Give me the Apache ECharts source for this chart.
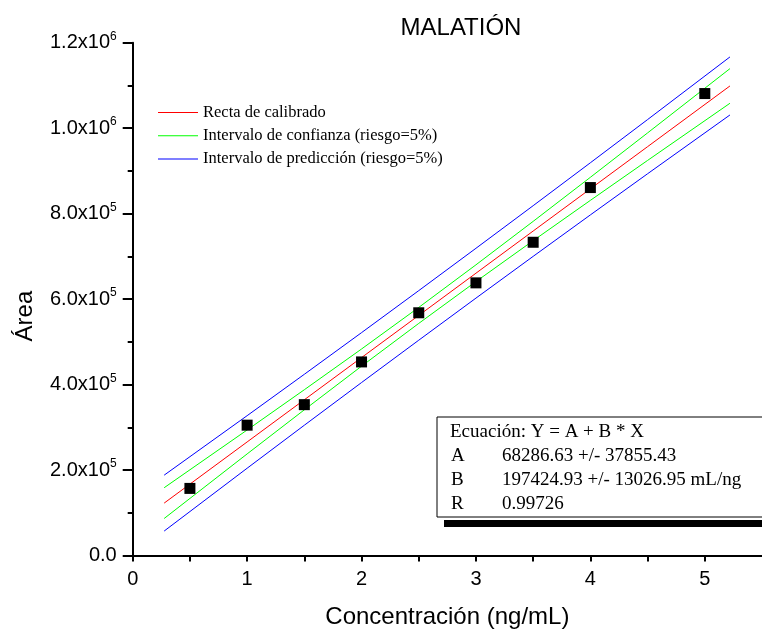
<!DOCTYPE html>
<html>
<head>
<meta charset="utf-8">
<script src="https://cdn.jsdelivr.net/npm/echarts@6/dist/echarts.min.js"></script>
<style>
  html, body { margin: 0; padding: 0; background: #fff; }
  #chart { width: 762px; height: 635px; }
</style>
</head>
<body>
<div id="chart"></div>
<script>
// Calibration standards (ng/mL) and measured peak areas
const concentrations = [0.5, 1.0, 1.5, 2.0, 2.5, 3.0, 3.5, 4.0, 5.0];
const areas = [157000, 305000, 353000, 453000, 568000, 638000, 733000, 861000, 1081000];

// Calibration line and its 5% confidence / prediction bands
const bandX = [0.275, 1.0, 1.5, 2.0, 2.5, 3.0, 3.5, 4.0, 4.5, 5.22];
const fitLine = [122600, 265700, 364400, 463100, 561800, 660600, 759300, 858000, 956700, 1098800];
const confUpper = [158600, 293700, 387900, 483200, 580500, 680200, 781900, 885000, 988900, 1139300];
const confLower = [86600, 237700, 340900, 443000, 543100, 641000, 736700, 831000, 924500, 1058300];
const predUpper = [188000, 327200, 424000, 521500, 619800, 718900, 818600, 919000, 1020100, 1166700];
const predLower = [57200, 204200, 304800, 404700, 503800, 602300, 700000, 797000, 893300, 1030900];

// Axis tick labels
const xTickLabels = ['0', '1', '2', '3', '4', '5'];
const yMantissas = ['0.0', '2.0', '4.0', '6.0', '8.0', '1.0', '1.2'];
const yExponents = ['', '5', '5', '5', '5', '6', '6'];

// Series names shown in the legend
const nameFit = 'Recta de calibrado';
const nameConf = 'Intervalo de confianza (riesgo=5%)';
const namePred = 'Intervalo de predicción (riesgo=5%)';

// Regression summary
const eqHeader = 'Ecuación: Y = A + B * X';
const eqNames = ['A', 'B', 'R'];
const eqValues = ['68286.63 +/- 37855.43', '197424.93 +/- 13026.95 mL/ng', '0.99726'];

const SANS = 'Liberation Sans, Arial, sans-serif';
const SERIF = 'Liberation Serif, Times New Roman, serif';

function pairs(xs, ys) { return xs.map((x, i) => [x, ys[i]]); }

function bandSeries(name, color, ys) {
  return {
    name: name, type: 'line', data: pairs(bandX, ys),
    symbol: 'none', smooth: false, silent: true,
    lineStyle: { color: color, width: 1 },
    itemStyle: { color: color },
    z: 2
  };
}

const chart = echarts.init(document.getElementById('chart'), null, { renderer: 'canvas' });

// Parameter box with its dark drop shadow along the bottom
const eqGraphics = [];
const boxLeft = 437, boxTop = 417, boxBottom = 517;
eqGraphics.push({ type: 'rect', shape: { x: 444, y: 520, width: 340, height: 7 }, style: { fill: '#000' }, z: 10 });
eqGraphics.push({ type: 'rect', shape: { x: boxLeft, y: boxTop, width: 340, height: boxBottom - boxTop },
  style: { fill: '#fff', stroke: '#000', lineWidth: 1 }, z: 11 });
eqGraphics.push({ type: 'text', x: 450, y: 432, z: 12,
  style: { text: eqHeader, font: '19px ' + SERIF, fill: '#000', textVerticalAlign: 'middle' } });
eqNames.forEach((n, i) => {
  eqGraphics.push({ type: 'text', x: 451, y: 456 + i * 24, z: 12,
    style: { text: n, font: '19px ' + SERIF, fill: '#000', textVerticalAlign: 'middle' } });
  eqGraphics.push({ type: 'text', x: 502, y: 456 + i * 24, z: 12,
    style: { text: eqValues[i], font: '19px ' + SERIF, fill: '#000', textVerticalAlign: 'middle' } });
});

const lineIcon = 'path://M0,0 L40,0 L40,1 L0,1 Z';

chart.setOption({
  animation: false,
  backgroundColor: '#fff',
  title: {
    text: 'MALATIÓN', left: 456, top: 11, textAlign: 'center',
    textStyle: { fontFamily: SANS, fontSize: 24, fontWeight: 'normal', color: '#000' }
  },
  legend: {
    orient: 'vertical', left: 153, top: 99,
    itemWidth: 40, itemHeight: 1.2, itemGap: 6.3,
    icon: lineIcon,
    data: [nameFit, nameConf, namePred],
    textStyle: { fontFamily: SERIF, fontSize: 16.5, color: '#000', lineHeight: 16 }
  },
  grid: { left: 132.7, right: -3.2, top: 42.7, bottom: 79.5, containLabel: false },
  xAxis: {
    type: 'value', min: 0, max: 5.5, interval: 0.5,
    name: 'Concentración (ng/mL)', nameLocation: 'middle', nameGap: 50,
    nameTextStyle: { fontFamily: SANS, fontSize: 24, color: '#000' },
    axisLine: { show: true, onZero: false, lineStyle: { color: '#000', width: 2 } },
    axisTick: { show: true, inside: false, length: 6, lineStyle: { color: '#000', width: 2 } },
    axisLabel: {
      margin: 14, fontFamily: SANS, fontSize: 20, color: '#000', showMaxLabel: false,
      formatter: function (v) {
        const idx = Math.round(v);
        return (Math.abs(v - idx) < 1e-9 && idx < xTickLabels.length) ? xTickLabels[idx] : '';
      }
    },
    splitLine: { show: false }
  },
  yAxis: {
    type: 'value', min: 0, max: 1200000, interval: 200000,
    name: 'Área', nameLocation: 'middle', nameGap: 95, nameRotate: 90,
    nameTextStyle: { fontFamily: SANS, fontSize: 24, color: '#000', padding: [0, 34, 0, 0] },
    axisLine: { show: true, onZero: false, lineStyle: { color: '#000', width: 2 } },
    axisTick: { show: true, inside: false, length: 10, lineStyle: { color: '#000', width: 2 } },
    minorTick: { show: true, splitNumber: 2, length: 5, lineStyle: { color: '#000', width: 2 } },
    axisLabel: {
      margin: 16, color: '#000',
      formatter: function (v) {
        const i = Math.round(v / 200000);
        const m = yMantissas[i];
        const e = yExponents[i];
        return e ? '{b|' + m + 'x10}{s|' + e + '}' : '{b|' + m + '}';
      },
      rich: {
        b: { fontFamily: SANS, fontSize: 20, lineHeight: 24, color: '#000' },
        s: { fontFamily: SANS, fontSize: 12, lineHeight: 12, verticalAlign: 'top', color: '#000' }
      }
    },
    splitLine: { show: false }
  },
  series: [
    bandSeries(namePred, '#0000ff', predUpper),
    bandSeries(namePred, '#0000ff', predLower),
    bandSeries(nameConf, '#00ff00', confUpper),
    bandSeries(nameConf, '#00ff00', confLower),
    bandSeries(nameFit, '#ff0000', fitLine),
    {
      name: 'Área', type: 'scatter', data: pairs(concentrations, areas),
      symbol: 'rect', symbolSize: 11,
      itemStyle: { color: '#000', opacity: 1 },
      z: 5
    }
  ],
  graphic: eqGraphics
});
</script>
</body>
</html>
